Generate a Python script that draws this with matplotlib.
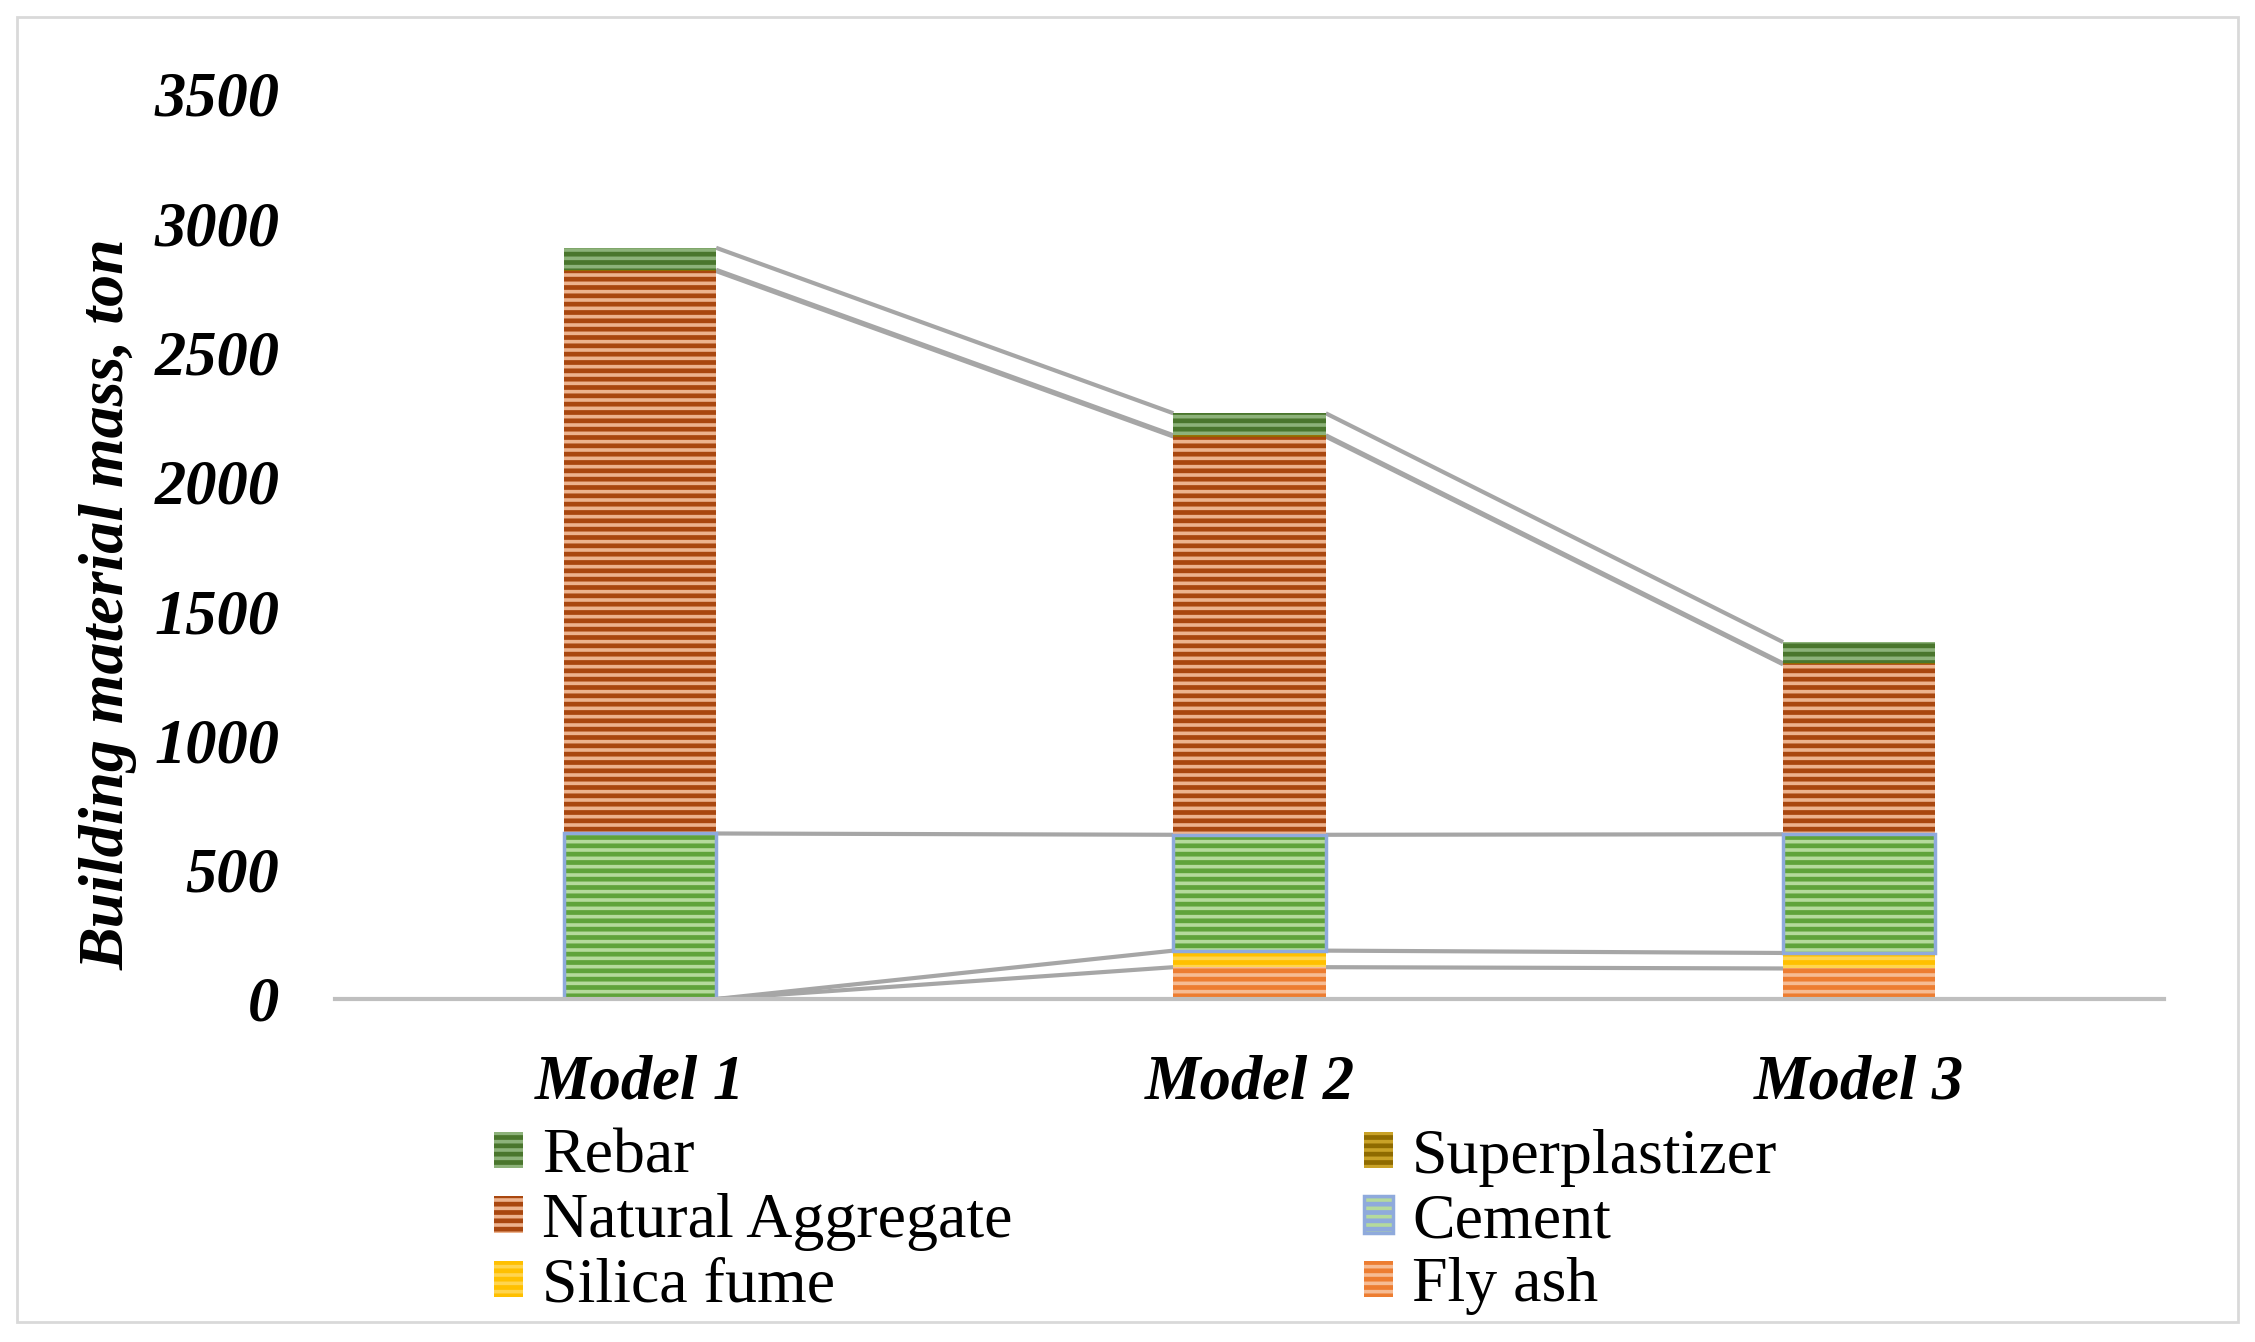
import matplotlib
matplotlib.use("Agg")
import matplotlib.pyplot as plt
from matplotlib.patches import Patch, Rectangle
import numpy as np

categories = ["Model 1", "Model 2", "Model 3"]
fly_ash = [0, 123, 118]
silica_fume = [0, 64, 60]
cement = [640, 448, 459]
natural_aggregate = [2175, 1540, 657]
superplastizer = [5, 5, 4]
rebar = [85, 85, 82]

series_names = ["Fly ash", "Silica fume", "Cement", "Natural Aggregate", "Superplastizer", "Rebar"]
series_vals = [fly_ash, silica_fume, cement, natural_aggregate, superplastizer, rebar]
face_cols = ["#F6BC94", "#FFD54F", "#B5DA9C", "#EDB38E", "#C9A227", "#8DB27A"]
hatch_cols = ["#ED7D31", "#FFC000", "#5FA33A", "#A9470F", "#8F6B00", "#4A762D"]

yticks = [0, 500, 1000, 1500, 2000, 2500, 3000, 3500]

plt.rcParams["hatch.linewidth"] = 3.4
serif = "Liberation Serif"

fig = plt.figure(figsize=(22.55, 13.42), dpi=100)
ax = fig.add_axes([0.1486, 0.2556, 0.8111, 0.6744])

x = np.arange(len(categories))
width = 0.25
bottom = np.zeros(len(categories))
tops = []
handles = {}
for name, vals, fc, hc in zip(series_names, series_vals, face_cols, hatch_cols):
    vals = np.array(vals, dtype=float)
    ax.bar(x, vals, width, bottom=bottom, color=fc, edgecolor=hc, linewidth=0,
           hatch="--", zorder=3)
    if name == "Cement":
        ax.bar(x, vals, width, bottom=bottom, fill=False, edgecolor="#8FAADC",
               linewidth=2.5, zorder=4)
        handles[name] = Patch(facecolor=fc, edgecolor="#8FAADC", hatch="--", linewidth=2.5)
    else:
        handles[name] = Patch(facecolor=fc, edgecolor=hc, hatch="--", linewidth=0)
    bottom = bottom + vals
    tops.append(bottom.copy())

# series lines
for t in tops:
    for i in range(len(categories) - 1):
        ax.plot([x[i] + width / 2, x[i + 1] - width / 2], [t[i], t[i + 1]],
                color="#A6A6A6", linewidth=3.0, zorder=2, solid_capstyle="butt")

ax.set_xlim(-0.5, 2.5)
ax.set_ylim(0, 3500)
ax.set_yticks(yticks)
ax.set_yticklabels([str(v) for v in yticks])
ax.set_xticks(x)
ax.set_xticklabels(categories)
for s in ["top", "right", "left"]:
    ax.spines[s].set_visible(False)
ax.spines["bottom"].set_color("#BFBFBF")
ax.spines["bottom"].set_linewidth(3)
ax.spines["bottom"].set_zorder(5)
ax.tick_params(axis="both", length=0)
ax.tick_params(axis="y", pad=40)
ax.tick_params(axis="x", pad=40)
for lab in ax.get_yticklabels() + ax.get_xticklabels():
    lab.set_fontfamily(serif)
    lab.set_fontweight("bold")
    lab.set_fontstyle("italic")
    lab.set_fontsize(45)

ax.set_ylabel("Building material mass, ton", fontfamily=serif, fontweight="bold",
              fontstyle="italic", fontsize=46)
ax.yaxis.set_label_coords(-0.108, 0.436)

leg_kw = dict(frameon=False, prop={"family": serif, "size": 46}, handlelength=0.45,
              handleheight=0.5, handletextpad=0.3, labelspacing=0.1, borderpad=0,
              borderaxespad=0, loc="upper left")
col1 = ["Rebar", "Natural Aggregate", "Silica fume"]
col2 = ["Superplastizer", "Cement", "Fly ash"]
leg1 = fig.legend([handles[n] for n in col1], col1, bbox_to_anchor=(0.219, 0.159), **leg_kw)
leg2 = fig.legend([handles[n] for n in col2], col2, bbox_to_anchor=(0.605, 0.159), **leg_kw)

fig.patches.append(Rectangle((0.0075, 0.015), 0.985, 0.972, transform=fig.transFigure,
                             fill=False, edgecolor="#D9D9D9", linewidth=2))

fig.savefig("out.png", dpi=100)
